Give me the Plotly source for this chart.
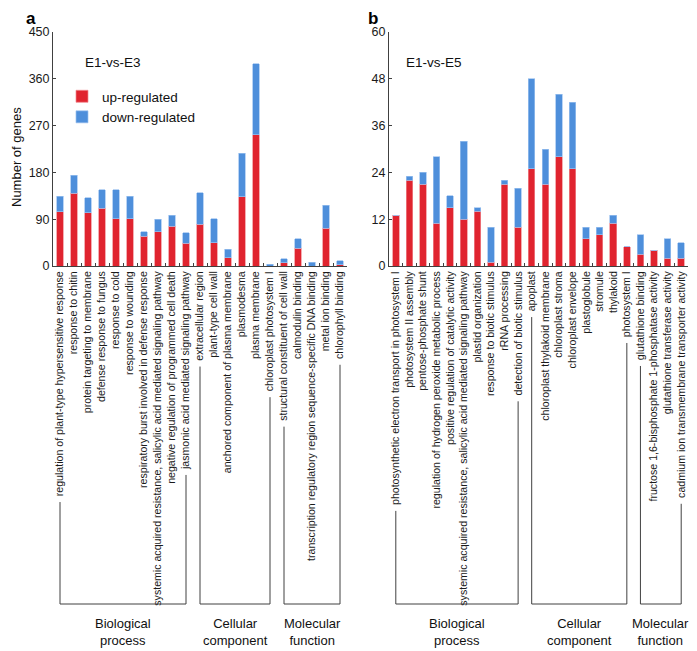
import plotly.graph_objects as go
from plotly.subplots import make_subplots

# ---- data: panel a (E1-vs-E3) ----
cats_a = ["regulation of plant-type hypersensitive response", "response to chitin",
          "protein targeting to membrane", "defense response to fungus", "response to cold",
          "response to wounding", "respiratory burst involved in defense response",
          "systemic acquired resistance, salicylic acid mediated signaling pathway",
          "negative regulation of programmed cell death", "jasmonic acid mediated signaling pathway",
          "extracellular region", "plant-type cell wall", "anchored component of plasma membrane",
          "plasmodesma", "plasma membrane", "chloroplast photosystem I",
          "structural constituent of cell wall", "calmodulin binding",
          "transcription regulatory region sequence-specific DNA binding", "metal ion binding",
          "chlorophyll binding"]
up_a = [104, 140, 102, 111, 91, 91, 57, 66, 76, 44, 80, 45, 16, 133, 252, 0, 6, 34, 0, 73, 2]
down_a = [30, 35, 29, 36, 56, 43, 9, 24, 22, 20, 61, 46, 16, 84, 137, 3, 8, 18, 7, 44, 8]
groups_a = [10, 6, 5]

# ---- data: panel b (E1-vs-E5) ----
cats_b = ["photosynthetic electron transport in photosystem I", "photosystem II assembly",
          "pentose-phosphate shunt", "regulation of hydrogen peroxide metabolic process",
          "positive regulation of catalytic activity",
          "systemic acquired resistance, salicylic acid mediated signaling pathway",
          "plastid organization", "response to biotic stimulus", "rRNA processing",
          "detection of biotic stimulus", "apoplast", "chloroplast thylakoid membrane",
          "chloroplast stroma", "chloroplast envelope", "plastoglobule", "stromule", "thylakoid",
          "photosystem I", "glutathione binding", "fructose 1,6-bisphosphate 1-phosphatase activity",
          "glutathione transferase activity", "cadmium ion transmembrane transporter activity"]
up_b = [13, 22, 21, 11, 15, 12, 14, 1, 21, 10, 25, 21, 28, 25, 7, 8, 11, 5, 3, 4, 2, 2]
down_b = [0, 1, 3, 17, 3, 20, 1, 9, 1, 10, 23, 9, 16, 17, 3, 2, 2, 0, 5, 0, 5, 4]
groups_b = [10, 8, 4]

group_names = ["Biological<br>process", "Cellular<br>component", "Molecular<br>function"]

RED = "#e0242f"
BLUE = "#4e8fdb"
FONT = "Arial, Liberation Sans, sans-serif"
LBL_SIZE = 10.6

# arial widths, used to find where each rotated label ends
W = dict(zip("abcdefghijklmnopqrstuvwxyz",
             [556, 556, 500, 556, 556, 278, 556, 556, 222, 222, 500, 222, 833, 556, 556, 556,
              556, 333, 500, 278, 556, 500, 722, 500, 500, 500]))
W.update({" ": 278, ",": 278, "-": 333, ".": 278, "I": 278, "D": 722, "N": 722, "A": 667, "R": 722})


def text_w(s):
    return sum(W.get(c, 556) for c in s) / 1000 * LBL_SIZE


# plot area in page pixels; the page body adds an 8px margin, so the figure is shifted back
OFF = 8
H, L, R, TOP, BOT = 651, 53, 688, 32, 266


def px(p):
    return (p - L) / (R - L)


def py(p):
    return (BOT - p) / (BOT - TOP)


fig = make_subplots(rows=1, cols=2)
fig.add_trace(go.Bar(x=cats_a, y=up_a, name="up-regulated", marker_color=RED,
                     marker_line=dict(color="#f08a90", width=0.7)), row=1, col=1)
fig.add_trace(go.Bar(x=cats_a, y=down_a, name="down-regulated", marker_color=BLUE,
                     marker_line=dict(color="#9cc2ef", width=0.7)), row=1, col=1)
fig.add_trace(go.Bar(x=cats_b, y=up_b, showlegend=False, marker_color=RED,
                     marker_line=dict(color="#f08a90", width=0.7)), row=1, col=2)
fig.add_trace(go.Bar(x=cats_b, y=down_b, showlegend=False, marker_color=BLUE,
                     marker_line=dict(color="#9cc2ef", width=0.7)), row=1, col=2)

axis_style = dict(showline=True, linecolor="#404040", linewidth=1, ticks="inside",
                  tickcolor="#404040", ticklen=3, showgrid=False, zeroline=False)
fig.update_xaxes(**axis_style, tickangle=-90, tickson="boundaries", dtick=1,
                 tickfont=dict(size=LBL_SIZE, color="#1a1a1a", family=FONT))
fig.update_yaxes(**axis_style, tickfont=dict(size=12.5, color="#1a1a1a", family=FONT))
fig.update_xaxes(domain=[0, px(347)], range=[-0.5, 20.5], row=1, col=1)
fig.update_xaxes(domain=[px(389), 1], range=[-0.5, 21.5], row=1, col=2)
fig.update_yaxes(range=[0, 450], tickvals=[0, 90, 180, 270, 360, 450], row=1, col=1)
fig.update_yaxes(range=[0, 60], tickvals=[0, 12, 24, 36, 48, 60], row=1, col=2)

# brackets grouping the GO terms
label_top = BOT + 6
for cats, groups, xr in [(cats_a, groups_a, "x"), (cats_b, groups_b, "x2")]:
    start = 0
    for n, gname in zip(groups, group_names):
        i0, i1 = start, start + n - 1
        for i in (i0, i1):
            fig.add_shape(type="line", xref=xr, yref="paper", x0=i, x1=i,
                          y0=py(label_top + text_w(cats[i]) + 5), y1=py(604),
                          line=dict(color="#404040", width=1))
        fig.add_shape(type="line", xref=xr, yref="paper", x0=i0, x1=i1, y0=py(604), y1=py(604),
                      line=dict(color="#404040", width=1))
        fig.add_annotation(x=(i0 + i1) / 2, xref=xr, y=py(614), yref="paper", text=gname,
                           showarrow=False, xanchor="center", yanchor="top",
                           font=dict(size=13, color="#111"))
        start += n

fig.add_annotation(x=px(16), y=py(157), xref="paper", yref="paper", text="Number of genes",
                   textangle=-90, showarrow=False, xanchor="center", yanchor="middle",
                   font=dict(size=13, color="#111"))
fig.add_annotation(x=px(83), y=py(63), xref="paper", yref="paper", text="E1-vs-E3",
                   xanchor="left", yanchor="middle", showarrow=False, font=dict(size=13.5, color="#111"))
fig.add_annotation(x=px(404), y=py(62), xref="paper", yref="paper", text="E1-vs-E5",
                   xanchor="left", yanchor="middle", showarrow=False, font=dict(size=13.5, color="#111"))
fig.add_annotation(x=px(24), y=py(19), xref="paper", yref="paper", text="<b>a</b>",
                   xanchor="left", yanchor="middle", showarrow=False, font=dict(size=17, color="#000"))
fig.add_annotation(x=px(366), y=py(19), xref="paper", yref="paper", text="<b>b</b>",
                   xanchor="left", yanchor="middle", showarrow=False, font=dict(size=17, color="#000"))

fig.update_layout(
    width=697, height=H, barmode="stack", bargap=0.52,
    margin=dict(l=L - OFF, r=697 - (R - OFF), t=TOP - OFF, b=H - (BOT - OFF)),
    plot_bgcolor="white", paper_bgcolor="white",
    font=dict(family=FONT, color="#111"),
    legend=dict(x=px(62), y=py(81), yanchor="top", xanchor="left", traceorder="normal",
                font=dict(size=13.5), bgcolor="rgba(0,0,0,0)", tracegroupgap=2),
)
fig.write_html("out.html")
